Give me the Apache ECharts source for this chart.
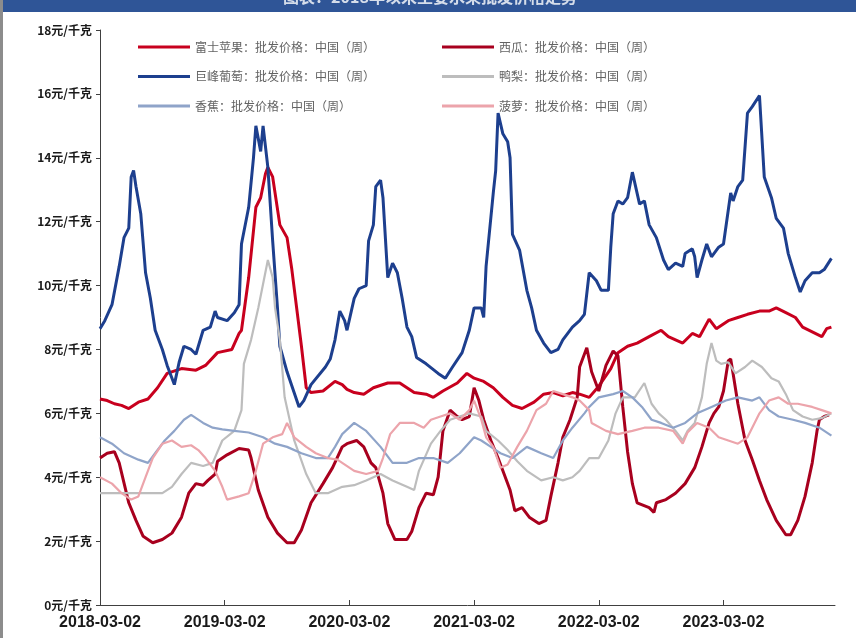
<!DOCTYPE html>
<html>
<head>
<meta charset="utf-8">
<script src="https://cdn.jsdelivr.net/npm/echarts@6/dist/echarts.min.js"></script>
<style>
html,body{margin:0;padding:0;background:#fff;}
#c{width:856px;height:638px;}
</style>
</head>
<body>
<div id="c"></div>
<script>
// x values are week numbers counted from 2018-03-02 (weekly data)
const tickLabels = ['2018-03-02','2019-03-02','2020-03-02','2021-03-02','2022-03-02','2023-03-02'];
const weeksPerTick = 52;
const yTicks = [0,2,4,6,8,10,12,14,16,18];
const seriesNames = ['富士苹果：批发价格：中国（周）','西瓜：批发价格：中国（周）','巨峰葡萄：批发价格：中国（周）','鸭梨：批发价格：中国（周）','香蕉：批发价格：中国（周）','菠萝：批发价格：中国（周）'];

const apple = [[0,6.45],[3,6.4],[6,6.3],[9,6.25],[12,6.15],[16,6.35],[20,6.45],[24,6.8],[28,7.25],[34,7.4],[40,7.35],[44,7.5],[49,7.9],[55,8.0],[58,8.5],[59,8.6],[62,10.25],[65,12.45],[67,12.75],[69,13.5],[70,13.7],[72,13.4],[75,11.9],[78,11.5],[80,10.5],[82,9.3],[84,8.1],[86,6.8],[88,6.65],[93,6.7],[98,7.0],[101,6.9],[103,6.75],[106,6.65],[110,6.6],[114,6.8],[120,6.95],[125,6.95],[131,6.65],[136,6.6],[139,6.5],[143,6.7],[149,6.95],[153,7.25],[156,7.1],[160,7.0],[164,6.8],[168,6.5],[172,6.25],[176,6.15],[181,6.35],[185,6.6],[189,6.65],[193,6.55],[197,6.65],[200,6.6],[204,6.5],[208,6.85],[213,7.4],[216,7.9],[220,8.1],[224,8.2],[229,8.4],[234,8.6],[237,8.4],[243,8.2],[247,8.5],[250,8.4],[254,8.95],[257,8.65],[262,8.9],[266,9.0],[270,9.1],[275,9.2],[279,9.2],[282,9.3],[286,9.15],[290,9.0],[293,8.7],[297,8.55],[301,8.4],[303,8.65],[305,8.7]];

const watermelon = [[0,4.6],[3,4.75],[6,4.8],[8,4.45],[12,3.2],[15,2.65],[18,2.15],[22,1.95],[26,2.05],[30,2.25],[34,2.75],[37,3.5],[40,3.8],[43,3.75],[45,3.9],[48,4.1],[49,4.5],[53,4.7],[58,4.9],[62,4.85],[63,4.6],[66,3.6],[70,2.75],[74,2.25],[78,1.95],[81,1.95],[84,2.35],[88,3.2],[93,3.8],[97,4.3],[101,4.95],[103,5.05],[107,5.15],[110,4.95],[113,4.45],[115,4.3],[118,3.5],[120,2.55],[123,2.05],[128,2.05],[130,2.3],[133,3.05],[136,3.5],[139,3.45],[141,4.0],[143,5.45],[146,6.1],[149,5.9],[151,5.8],[154,5.9],[156,6.8],[158,6.4],[160,5.8],[163,5.15],[166,4.6],[168,4.2],[171,3.6],[173,2.95],[176,3.05],[179,2.75],[183,2.55],[186,2.65],[188,3.4],[191,4.45],[193,5.25],[196,5.8],[199,6.5],[200,7.45],[203,8.05],[205,7.3],[208,6.7],[211,7.5],[214,7.95],[216,7.8],[218,6.2],[220,4.8],[222,3.8],[224,3.2],[229,3.05],[231,2.9],[232,3.2],[236,3.3],[240,3.5],[244,3.8],[248,4.3],[251,4.95],[254,5.7],[256,6.0],[258,6.2],[260,6.7],[262,7.65],[263,7.7],[264,7.25],[266,6.3],[269,5.15],[272,4.55],[275,3.9],[278,3.3],[282,2.65],[286,2.2],[288,2.2],[291,2.65],[294,3.4],[297,4.45],[299,5.45],[300,5.8],[302,5.9],[304,5.95]];

const grape = [[0,8.65],[2,8.9],[5,9.4],[8,10.6],[10,11.5],[12,11.8],[13,13.4],[14,13.6],[15,13.1],[17,12.25],[19,10.4],[21,9.6],[23,8.6],[26,8.0],[28,7.5],[31,6.9],[33,7.6],[35,8.1],[38,8.0],[40,7.85],[43,8.6],[46,8.7],[48,9.2],[49,9.0],[53,8.9],[56,9.15],[58,9.4],[59,11.3],[62,12.45],[64,14.0],[65,15.0],[67,14.2],[68,15.0],[70,13.7],[72,11.4],[74,9.3],[75,8.1],[78,7.3],[83,6.2],[85,6.4],[88,6.9],[94,7.45],[96,7.7],[98,8.3],[100,9.2],[102,8.9],[103,8.6],[106,9.6],[108,9.9],[111,10.0],[112,11.4],[114,11.9],[115,13.1],[117,13.3],[118,12.75],[120,10.25],[122,10.7],[124,10.4],[126,9.6],[128,8.7],[130,8.4],[132,7.75],[136,7.55],[141,7.25],[144,7.1],[147,7.45],[151,7.9],[154,8.6],[156,9.3],[159,9.3],[160,9.0],[161,10.6],[164,12.9],[165,13.6],[166,15.4],[168,14.75],[170,14.5],[171,14.0],[172,11.6],[175,11.1],[178,9.85],[180,9.3],[182,8.6],[185,8.2],[188,7.9],[191,8.0],[193,8.3],[197,8.7],[200,8.9],[202,9.1],[204,10.4],[207,10.15],[209,9.85],[212,9.85],[213,11.2],[214,12.25],[216,12.65],[218,12.55],[220,12.75],[222,13.55],[225,12.55],[227,12.65],[229,11.9],[232,11.5],[235,10.8],[237,10.5],[240,10.7],[243,10.6],[244,11.0],[247,11.15],[248,10.9],[249,10.25],[251,10.8],[253,11.3],[255,10.9],[258,11.2],[260,11.3],[263,12.9],[264,12.65],[266,13.1],[268,13.3],[270,15.4],[272,15.6],[275,15.95],[277,13.4],[280,12.75],[282,12.1],[285,11.8],[287,11.0],[290,10.25],[292,9.8],[294,10.15],[297,10.4],[300,10.4],[302,10.5],[305,10.85]];

const pear = [[0,3.5],[6,3.5],[12,3.5],[19,3.5],[26,3.5],[30,3.7],[34,4.1],[38,4.45],[43,4.35],[47,4.45],[51,5.15],[56,5.45],[59,6.1],[60,7.55],[63,8.3],[66,9.3],[68,10.05],[70,10.8],[72,10.25],[73,9.3],[75,8.3],[77,6.5],[81,5.15],[86,4.1],[90,3.5],[95,3.5],[101,3.7],[106,3.75],[111,3.9],[117,4.1],[122,3.9],[128,3.7],[131,3.6],[133,4.2],[138,5.05],[142,5.45],[146,5.8],[150,5.9],[154,6.0],[159,5.9],[161,5.45],[166,5.15],[170,4.85],[174,4.5],[178,4.2],[184,3.9],[189,4.0],[193,3.9],[197,4.0],[200,4.2],[204,4.6],[208,4.6],[212,5.15],[215,6.0],[218,6.5],[223,6.5],[227,6.95],[230,6.3],[233,6.0],[236,5.8],[240,5.45],[243,5.15],[245,5.45],[248,5.7],[251,6.5],[253,7.55],[255,8.2],[257,7.65],[259,7.55],[262,7.6],[265,7.25],[269,7.45],[272,7.65],[276,7.45],[280,7.1],[283,7.0],[286,6.6],[289,6.1],[293,5.9],[297,5.8],[301,5.85],[305,6.0]];

const banana = [[0,5.25],[5,5.05],[10,4.75],[16,4.55],[20,4.45],[23,4.75],[27,5.15],[31,5.45],[35,5.8],[38,5.95],[43,5.7],[47,5.55],[51,5.5],[56,5.45],[62,5.4],[68,5.25],[73,5.05],[78,4.95],[84,4.75],[90,4.6],[95,4.6],[98,4.95],[101,5.35],[106,5.7],[111,5.45],[117,4.95],[122,4.45],[128,4.45],[133,4.6],[139,4.6],[145,4.45],[150,4.75],[156,5.25],[159,5.15],[163,4.95],[167,4.75],[172,4.6],[178,4.95],[184,4.75],[189,4.6],[193,5.15],[197,5.55],[202,6.0],[204,6.2],[208,6.5],[214,6.6],[218,6.7],[222,6.5],[226,6.2],[230,5.8],[234,5.7],[239,5.55],[244,5.7],[249,6.0],[255,6.2],[261,6.4],[266,6.5],[272,6.4],[275,6.5],[279,6.1],[283,5.9],[289,5.8],[294,5.7],[300,5.55],[305,5.3]];

const pineapple = [[0,4.0],[5,3.8],[9,3.5],[13,3.3],[16,3.4],[19,4.0],[22,4.6],[26,5.05],[30,5.15],[34,4.95],[38,5.0],[41,4.85],[44,4.6],[48,4.2],[51,3.7],[53,3.3],[58,3.4],[62,3.5],[65,4.2],[68,5.05],[72,5.25],[76,5.35],[78,5.7],[81,5.25],[86,4.95],[90,4.75],[95,4.6],[99,4.55],[101,4.45],[106,4.2],[111,4.1],[116,4.2],[118,4.6],[121,5.35],[125,5.7],[131,5.7],[135,5.55],[138,5.8],[142,5.9],[146,6.0],[150,5.8],[154,6.1],[156,6.4],[159,5.8],[161,5.25],[164,4.95],[167,4.3],[170,4.4],[174,4.95],[178,5.45],[182,6.1],[186,6.3],[189,6.7],[193,6.6],[197,6.5],[200,6.4],[204,6.1],[205,5.7],[211,5.45],[216,5.35],[222,5.45],[227,5.55],[233,5.55],[239,5.45],[243,5.05],[245,5.4],[249,5.7],[254,5.55],[258,5.25],[262,5.15],[266,5.05],[270,5.25],[275,6.0],[279,6.4],[283,6.5],[287,6.3],[291,6.3],[297,6.2],[301,6.1],[305,6.0]];

const chart = echarts.init(document.getElementById('c'), null, {renderer:'canvas'});
const colors = ['#c8001e','#a8001e','#1d3f8e','#bdbdbd','#8fa4c9','#eca4ab'];
const widths = [3,3,3,2.2,2.2,2.2];
const datas = [apple, watermelon, grape, pear, banana, pineapple];

const legendText = {color:'#636363', fontSize:12, lineHeight:14, fontFamily:'Noto Sans CJK SC'};
const legendBase = {orient:'vertical', top:35, icon:'rect', itemWidth:52, itemHeight:3, itemGap:15.5, textStyle:legendText};
const option = {
  backgroundColor:'#ffffff',
  animation:false,
  graphic:[
    {type:'rect', left:0, top:0, shape:{width:856, height:12}, style:{fill:'#2f5597'}, z:10},
    {type:'text', x:430, y:5, style:{text:'图表：2018年以来主要水果批发价格走势', fill:'#ffffff', font:'bold 16px "Noto Sans CJK SC"', align:'center', verticalAlign:'bottom', opacity:0.8}, z:11},
    {type:'rect', left:0, top:0, shape:{width:3, height:638}, style:{fill:'#8c8c8c'}, z:12}
  ],
  legend:[
    Object.assign({left:133, data:[seriesNames[0], seriesNames[2], seriesNames[4]]}, legendBase),
    Object.assign({left:437, data:[seriesNames[1], seriesNames[3], seriesNames[5]]}, legendBase)
  ],
  grid:{left:100, right:21, top:30, bottom:33, containLabel:false},
  xAxis:{
    type:'value', min:0, max:306.5, interval:weeksPerTick,
    splitLine:{show:false},
    axisLine:{lineStyle:{color:'#404040', width:1}},
    axisTick:{inside:true, length:5, lineStyle:{color:'#404040'}},
    axisLabel:{margin:10, color:'#1a1a1a', fontSize:16, fontWeight:'bold', fontFamily:'Liberation Sans', showMaxLabel:false,
      formatter:function(v){ const i = Math.round(v/weeksPerTick); return (Math.abs(v - i*weeksPerTick) < 1e-6 && tickLabels[i]) ? tickLabels[i] : ''; }}
  },
  yAxis:{
    type:'value', min:yTicks[0], max:yTicks[yTicks.length-1], interval:yTicks[1]-yTicks[0],
    splitLine:{show:false},
    axisLine:{show:true, lineStyle:{color:'#404040', width:1}},
    axisTick:{show:true, length:4, lineStyle:{color:'#404040'}},
    axisLabel:{margin:8, color:'#1a1a1a', fontSize:12, fontWeight:'bold', fontFamily:'Noto Sans CJK SC', formatter:'{value}元/千克'}
  },
  series: seriesNames.map(function(n, i){
    return {name:n, type:'line', data:datas[i], symbol:'none', smooth:false,
      color:colors[i], lineStyle:{width:widths[i], color:colors[i]}, z:2+i};
  })
};
chart.setOption(option);
</script>
</body>
</html>
